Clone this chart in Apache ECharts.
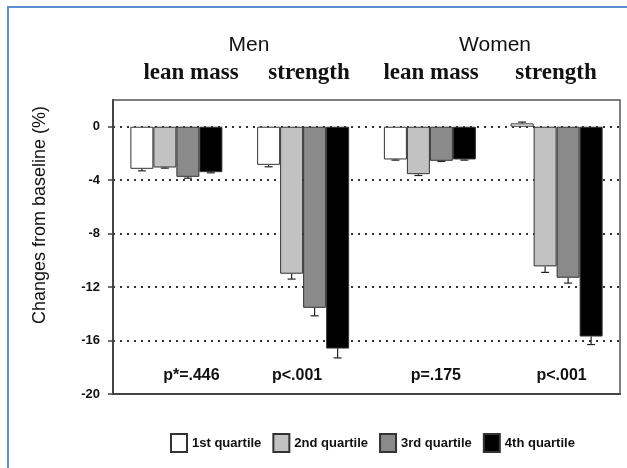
<!DOCTYPE html>
<html><head><meta charset="utf-8">
<script src="https://cdn.jsdelivr.net/npm/echarts@6/dist/echarts.min.js"></script>
<style>html,body{margin:0;padding:0;background:#fff}#c{width:627px;height:468px}</style>
</head><body><div id="c"></div>
<script>
const categories = ['Men lean mass', 'Men strength', 'Women lean mass', 'Women strength'];
const seriesNames = ['1st quartile', '2nd quartile', '3rd quartile', '4th quartile'];
const q1 = [-3.15, -2.85, -2.45, 0.25];
const q2 = [-3.05, -11.0, -3.55, -10.45];
const q3 = [-3.75, -13.55, -2.55, -11.3];
const q4 = [-3.4, -16.6, -2.45, -15.7];
const e1 = [0.15, 0.15, 0.05, 0.1];
const e2 = [0.05, 0.4, 0.1, 0.45];
const e3 = [0.1, 0.6, 0.05, 0.4];
const e4 = [0.05, 0.7, 0.05, 0.6];
const pValues = ['p*=.446', 'p<.001', 'p=.175', 'p<.001'];
const tickValues = [-20, -16, -12, -8, -4, 0];
const groupTitles = ['Men', 'Women'];
const subTitles = ['lean mass', 'strength', 'lean mass', 'strength'];

const values = [q1, q2, q3, q4];
const errs = [e1, e2, e3, e4];
const colors = ['#ffffff', '#c2c2c2', '#8a8a8a', '#000000'];
const BW = 23;

const chart = echarts.init(document.getElementById('c'));
const series = [];
values.forEach((v, i) => {
  series.push({
    name: seriesNames[i], type: 'bar', data: v, barWidth: BW, barGap: '0%',
    itemStyle: { color: colors[i], borderColor: '#333', borderWidth: 1 },
    z: 2
  });
});
values.forEach((v, i) => {
  series.push({
    type: 'custom', z: 3, silent: true,
    data: v.map((val, k) => [k, val, errs[i][k]]),
    renderItem: function (params, api) {
      const cat = api.value(0), val = api.value(1), er = api.value(2);
      const end = val >= 0 ? val + er : val - er;
      const p0 = api.coord([cat, val]);
      const p1 = api.coord([cat, end]);
      const x = p0[0] + (i - 1.5) * BW;
      const st = { stroke: '#222', lineWidth: 1.2 };
      return { type: 'group', children: [
        { type: 'line', shape: { x1: x, y1: p0[1], x2: x, y2: p1[1] }, style: st },
        { type: 'line', shape: { x1: x - 4, y1: p1[1], x2: x + 4, y2: p1[1] }, style: st }
      ]};
    }
  });
});
series.push({
  type: 'custom', z: 4, silent: true,
  data: pValues.map((p, k) => [k, -18.6]),
  renderItem: function (params, api) {
    const k = api.value(0);
    const c = api.coord([k, api.value(1)]);
    const dx = [15, -6, 6, 5][k];
    return { type: 'text', x: c[0] + dx, y: c[1], style: {
      text: pValues[k], font: 'bold 16px "Liberation Sans", Arial, sans-serif',
      fill: '#111', align: 'center', verticalAlign: 'middle' } };
  }
});

const headX = [191, 309, 431, 556];
const graphics = [
  { type: 'rect', shape: { x: 8, y: 7, width: 640, height: 480 }, style: { fill: 'none', stroke: '#5b8fd3', lineWidth: 2 }, silent: true },
  { type: 'text', x: 249, y: 45, style: { text: groupTitles[0], font: '21px "Liberation Sans", Arial, sans-serif', fill: '#111', align: 'center', verticalAlign: 'middle' } },
  { type: 'text', x: 495, y: 45, style: { text: groupTitles[1], font: '21px "Liberation Sans", Arial, sans-serif', fill: '#111', align: 'center', verticalAlign: 'middle' } },
  { type: 'text', x: 40, y: 215, rotation: Math.PI / 2, style: { text: 'Changes from baseline (%)', font: '18px "Liberation Sans", Arial, sans-serif', fill: '#111', align: 'center', verticalAlign: 'middle' } }
];
subTitles.forEach((t, k) => {
  graphics.push({ type: 'text', x: headX[k], y: 73, style: { text: t, font: 'bold 23px "Liberation Serif", "Times New Roman", serif', fill: '#111', align: 'center', verticalAlign: 'middle' } });
});

chart.setOption({
  animation: false,
  backgroundColor: '#fff',
  grid: { left: 113, top: 100, width: 507, height: 294, show: true, borderColor: '#555', borderWidth: 1.5, backgroundColor: 'transparent' },
  legend: {
    data: seriesNames, left: 165, top: 428, itemWidth: 16, itemHeight: 18, itemGap: 11,
    icon: 'rect',
    textStyle: { fontFamily: '"Liberation Sans", Arial, sans-serif', fontWeight: 'bold', fontSize: 13, color: '#111', padding: [6, 0, 0, 0] }
  },
  xAxis: {
    type: 'category', data: categories,
    axisLine: { show: true, onZero: false, lineStyle: { color: '#444', width: 2 } },
    axisTick: { show: false }, axisLabel: { show: false }
  },
  yAxis: {
    type: 'value', min: -20, max: 2,
    axisLine: { show: true, lineStyle: { color: '#444', width: 2 } },
    axisTick: { show: true, length: 5, customValues: tickValues, lineStyle: { color: '#444', width: 1.5 } },
    axisLabel: { customValues: tickValues, margin: 13, fontFamily: '"Liberation Sans", Arial, sans-serif', fontWeight: 'bold', fontSize: 13, color: '#111' },
    splitLine: { show: true, lineStyle: { color: '#333', type: [2, 5], width: 2 } }
  },
  graphic: graphics,
  series: series
});
</script></body></html>
